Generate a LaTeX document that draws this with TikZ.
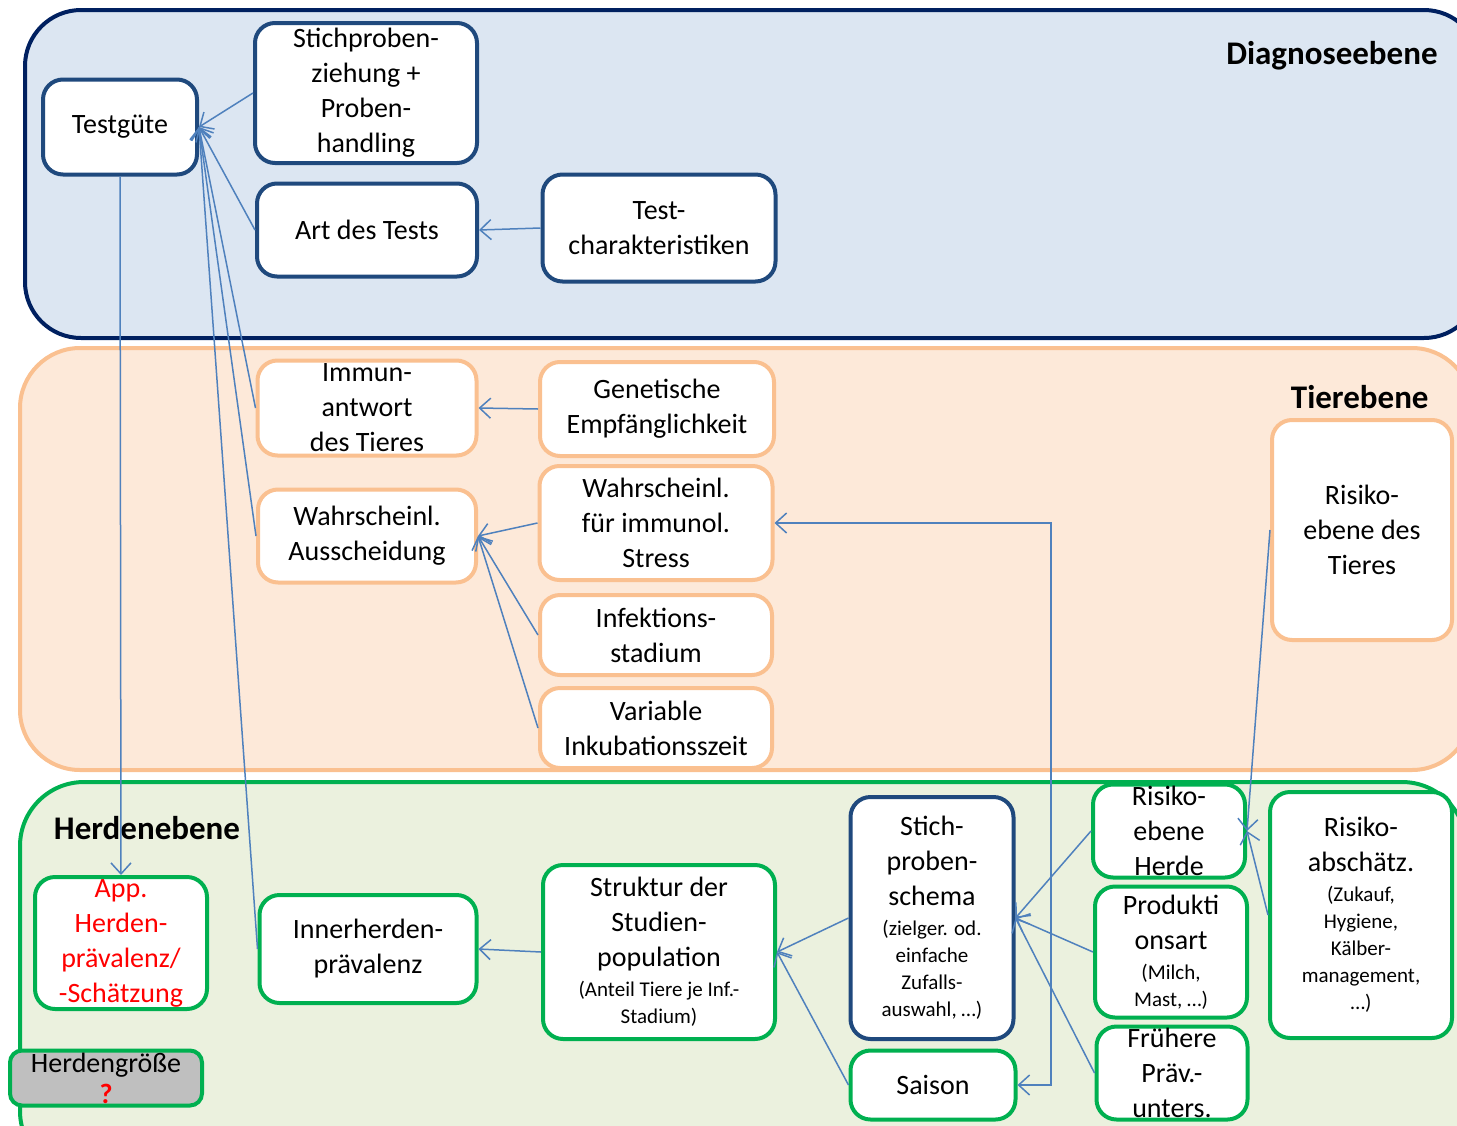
\documentclass[tikz,border=0pt]{standalone}
\usepackage{fontspec}
\setmainfont{Carlito}
\usetikzlibrary{arrows.meta}

\definecolor{linieblau}{RGB}{79,129,189}
\definecolor{randblau}{RGB}{31,73,125}
\definecolor{randnavy}{RGB}{0,32,96}
\definecolor{randorange}{RGB}{250,192,144}
\definecolor{randgruen}{RGB}{0,176,80}
\definecolor{flaecheblau}{RGB}{220,230,242}
\definecolor{flaecheorange}{RGB}{253,233,217}
\definecolor{flaechegruen}{RGB}{235,241,222}

\newcommand\kleintext{\fontsize{10.5}{13.5}\selectfont}

\begin{document}
\begin{tikzpicture}[x=0.5pt, y=-0.5pt, % 1 unit = 1 pixel of the sketch
    kasten/.style={draw, fill=white, line width=2pt, rounded corners=10pt, align=center,
        inner sep=0pt, font=\fontsize{14}{17.5}\selectfont},
    kblau/.style={kasten, draw=randblau},
    korange/.style={kasten, draw=randorange},
    kgruen/.style={kasten, draw=randgruen},
    ebene/.style={inner sep=0pt, font=\fontsize{16.5}{19}\selectfont\bfseries},
    pfeil/.style={draw=linieblau, line width=0.75pt, -{Straight Barb[length=5.5pt,width=10pt]}}]
    \useasboundingbox (0,0) rectangle (1457,1125);
    \clip (0,0) rectangle (1457,1125);

    % Ebenen
    \draw[fill=flaecheblau, draw=randnavy, line width=2pt, rounded corners=28pt] (25,10) rectangle (1480,338);
    \draw[fill=flaecheorange, draw=randorange, line width=2pt, rounded corners=30pt] (20,348) rectangle (1472,770);
    \draw[fill=flaechegruen, draw=randgruen, line width=2pt, rounded corners=32pt] (20,782) rectangle (1466,1175);
    \node[ebene, anchor=east] (diag) at (1438,56) {Diagnoseebene};
    \node[ebene, anchor=east] (tier) at (1429,397) {Tierebene};
    \node[ebene] (herde) at (147,828) {Herdenebene};

    % Diagnoseebene
    \node[kblau, minimum width=77pt, minimum height=47.5pt] (guete) at (120,127) {Testgüte};
    \node[kblau, minimum width=111pt, minimum height=70pt] (stich) at (366,93) {Stichproben-\\ziehung +\\Proben-\\handling};
    \node[kblau, minimum width=110pt, minimum height=46.5pt] (art) at (367,230) {Art des Tests};
    \node[kblau, minimum width=116.5pt, minimum height=53.5pt] (charakt) at (659,228) {Test-\\charakteristiken};

    % Tierebene
    \node[korange, minimum width=109.5pt, minimum height=47.5pt] (immun) at (367,408) {Immun-\\antwort\\des Tieres};
    \node[korange, minimum width=117pt, minimum height=47pt] (genetik) at (657,409) {Genetische\\Empfänglichkeit};
    \node[korange, minimum width=109pt, minimum height=46.5pt] (aussch) at (367,536) {Wahrscheinl.\\Ausscheidung};
    \node[korange, minimum width=116.5pt, minimum height=57pt] (stress) at (656,523) {Wahrscheinl.\\für immunol.\\Stress};
    \node[korange, minimum width=116pt, minimum height=40pt] (infekt) at (656,635) {Infektions-\\stadium};
    \node[korange, minimum width=116pt, minimum height=40pt] (inkub) at (656,728) {Variable\\Inkubationsszeit};
    \node[korange, minimum width=90pt, minimum height=110pt] (rtier) at (1362,530) {Risiko-\\ebene des\\Tieres};

    % Herdenebene
    \node[kgruen, minimum width=86pt, minimum height=66pt, text=red] (app) at (121,943) {App.\\Herden-\\prävalenz/\\-Schätzung};
    \node[kgruen, fill=gray!50, rounded corners=6pt, minimum width=96pt, minimum height=27.5pt] (groesse) at (106,1078) {Herdengröße\\[-2pt]{\color{red}\bfseries ?}};
    \node[kgruen, minimum width=108.5pt, minimum height=54pt] (inner) at (368,949) {Innerherden-\\prävalenz};
    \node[kgruen, minimum width=116pt, minimum height=87pt] (struktur) at (659,952) {Struktur der\\Studien-\\population\\[-2.5pt]{\kleintext(Anteil Tiere je Inf.-}\\[-4pt]{\kleintext Stadium)}};
    \node[kblau, minimum width=81.5pt, minimum height=121pt] (schema) at (932,918) {Stich-\\proben-\\schema\\[-2.5pt]{\kleintext(zielger. od.}\\[-4pt]{\kleintext einfache}\\[-4pt]{\kleintext Zufalls-}\\[-4pt]{\kleintext auswahl, …)}};
    \node[kgruen, minimum width=82.5pt, minimum height=34.5pt] (saison) at (933,1085) {Saison};
    \node[kgruen, minimum width=76pt, minimum height=46.5pt] (rherde) at (1169,831) {Risiko-\\ebene\\Herde};
    \node[kgruen, minimum width=76pt, minimum height=65.5pt] (prod) at (1171,952) {Produkti\\onsart\\[-2.5pt]{\kleintext(Milch,}\\[-4pt]{\kleintext Mast, …)}};
    \node[kgruen, minimum width=75.5pt, minimum height=46.5pt] (frueh) at (1172,1073) {Frühere\\Präv.-\\unters.};
    \node[kgruen, minimum width=91pt, minimum height=123pt] (rabsch) at (1361,915) {Risiko-\\abschätz.\\[-2.5pt]{\kleintext(Zukauf,}\\[-4pt]{\kleintext Hygiene,}\\[-4pt]{\kleintext Kälber-}\\[-4pt]{\kleintext management,}\\[-4pt]{\kleintext …)}};

    % Verbindungen
    \foreach \quelle in {stich, art, immun, aussch, inner}
        \draw[pfeil] (\quelle.west) -- (guete.east);
    \draw[pfeil] (guete.south) -- (app.north);
    \draw[pfeil] (charakt.west) -- (art.east);
    \draw[pfeil] (genetik.west) -- (immun.east);
    \foreach \quelle in {stress, infekt, inkub}
        \draw[pfeil] (\quelle.west) -- (aussch.east);
    \coordinate (knick) at (1051,523);
    \draw[pfeil, {Straight Barb[length=5.5pt,width=10pt]}-{Straight Barb[length=5.5pt,width=10pt]}] (stress.east) -- (knick) |- (saison.east);
    \draw[pfeil] (struktur.west) -- (inner.east);
    \foreach \quelle in {schema, saison}
        \draw[pfeil] (\quelle.west) -- (struktur.east);
    \foreach \quelle in {rherde, prod, frueh}
        \draw[pfeil] (\quelle.west) -- (schema.east);
    \foreach \quelle in {rtier, rabsch}
        \draw[pfeil] (\quelle.west) -- (rherde.east);
\end{tikzpicture}
\end{document}
